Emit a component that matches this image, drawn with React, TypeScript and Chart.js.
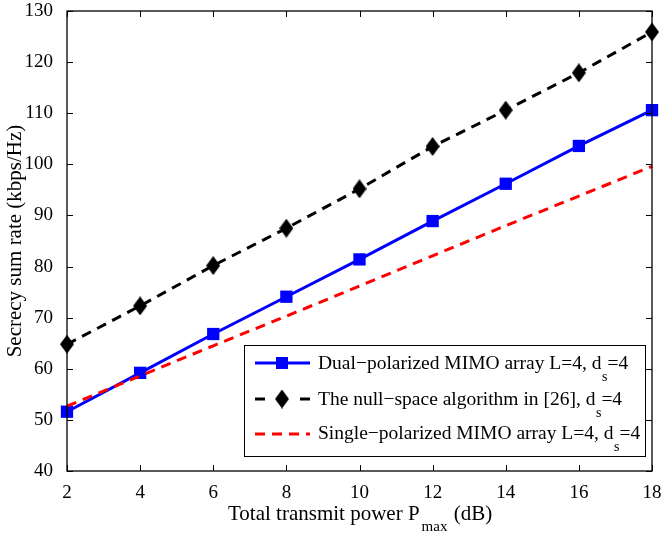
import { useEffect, useRef } from "react";
import { Chart, registerables } from "chart.js";
Chart.register(...registerables);

const power = [2, 4, 6, 8, 10, 12, 14, 16, 18];
const dualPolarized = [51.6, 59.2, 66.8, 74.1, 81.4, 88.9, 96.2, 103.6, 110.6];
const nullSpace = [64.8, 72.3, 80.2, 87.5, 95.2, 103.5, 110.6, 117.9, 125.9];
const singlePolarized = [52.7, 58.6, 64.5, 70.3, 76.2, 82.1, 88.0, 93.8, 99.6];
const legendMain = [
  "Dual\u2212polarized MIMO array L=4, d",
  "The null\u2212space algorithm in [26], d",
  "Single\u2212polarized MIMO array L=4, d",
];
const legendSub = "s";
const legendTail = "=4";
const xTitleMain = "Total transmit power P";
const xTitleSub = "max";
const xTitleTail = " (dB)";
const yTitle = "Secrecy sum rate (kbps/Hz)";

const FONT = "'Liberation Serif', 'Times New Roman', serif";
const BLUE = "#0000ff";
const BLACK = "#000000";
const RED = "#ff0000";
const DASH = [10, 7];

function makeDiamond(w: number, h: number) {
  const c = document.createElement("canvas");
  c.width = w;
  c.height = h;
  const g = c.getContext("2d")!;
  g.fillStyle = "#000";
  g.beginPath();
  g.moveTo(w / 2, 0);
  g.lineTo(w, h / 2);
  g.lineTo(w / 2, h);
  g.lineTo(0, h / 2);
  g.closePath();
  g.fill();
  return c;
}

export default function App() {
  const ref = useRef<HTMLCanvasElement | null>(null);
  useEffect(() => {
    const canvas = ref.current;
    if (!canvas) return;
    const diamond = makeDiamond(14, 19);

    const framePlugin = {
      id: "frame",
      afterDraw(chart: any) {
        const ctx = chart.ctx as CanvasRenderingContext2D;
        const { left, right, top, bottom } = chart.chartArea;
        const xs = chart.scales.x;
        const ys = chart.scales.y;
        ctx.save();
        ctx.strokeStyle = "#000";
        ctx.lineWidth = 1.3;
        ctx.strokeRect(left, top, right - left, bottom - top);
        const tl = 6;
        ctx.beginPath();
        xs.ticks.forEach((t: any) => {
          const px = Math.round(xs.getPixelForValue(t.value)) + 0.5;
          ctx.moveTo(px, bottom);
          ctx.lineTo(px, bottom - tl);
          ctx.moveTo(px, top);
          ctx.lineTo(px, top + tl);
        });
        ys.ticks.forEach((t: any) => {
          const py = Math.round(ys.getPixelForValue(t.value)) + 0.5;
          ctx.moveTo(left, py);
          ctx.lineTo(left + tl, py);
          ctx.moveTo(right, py);
          ctx.lineTo(right - tl, py);
        });
        ctx.lineWidth = 1;
        ctx.stroke();

        // x title with subscript
        ctx.fillStyle = "#000";
        ctx.textBaseline = "alphabetic";
        ctx.textAlign = "left";
        const tFont = `21px ${FONT}`;
        const tSub = `15px ${FONT}`;
        ctx.font = tFont;
        const w1 = ctx.measureText(xTitleMain).width;
        ctx.font = tSub;
        const w2 = ctx.measureText(xTitleSub).width;
        const x0 = 228;
        const by = 520;
        ctx.font = tFont;
        ctx.fillText(xTitleMain, x0, by);
        ctx.font = tSub;
        ctx.fillText(xTitleSub, x0 + w1 + 2, by + 11);
        ctx.font = tFont;
        ctx.fillText(xTitleTail, x0 + w1 + w2 + 3, by);

        // legend
        const lx = 244, ly = 345, lw = 401, lh = 111;
        ctx.fillStyle = "#fff";
        ctx.fillRect(lx, ly, lw, lh);
        ctx.strokeStyle = "#000";
        ctx.lineWidth = 1;
        ctx.strokeRect(lx + 0.5, ly + 0.5, lw, lh);
        const lines = [363, 399, 434];
        const bases = [369, 405, 439];
        const colors = [BLUE, BLACK, RED];
        const mFont = `19.5px ${FONT}`;
        const sFont = `14px ${FONT}`;
        lines.forEach((ry, i) => {
          ctx.strokeStyle = colors[i];
          ctx.lineWidth = 3;
          ctx.setLineDash(i === 0 ? [] : DASH);
          ctx.beginPath();
          if (i === 1) {
            ctx.moveTo(255, ry);
            ctx.lineTo(265, ry);
            ctx.moveTo(300, ry);
            ctx.lineTo(310, ry);
          } else {
            ctx.moveTo(255, ry);
            ctx.lineTo(310, ry);
          }
          ctx.stroke();
          ctx.setLineDash([]);
          if (i === 0) {
            ctx.fillStyle = BLUE;
            ctx.fillRect(282 - 6, ry - 6, 12, 12);
          } else if (i === 1) {
            ctx.drawImage(diamond, 282 - 7, ry - 9.5);
          }
          ctx.fillStyle = "#000";
          ctx.font = mFont;
          const tx = 318;
          const tb = bases[i];
          ctx.fillText(legendMain[i], tx, tb);
          const mw = ctx.measureText(legendMain[i]).width;
          ctx.font = sFont;
          ctx.fillText(legendSub, tx + mw + 0.5, tb + 12);
          const sw = ctx.measureText(legendSub).width;
          ctx.font = mFont;
          ctx.fillText(legendTail, tx + mw + sw + 0.5, tb);
        });
        ctx.restore();
      },
    };

    const chart = new Chart(canvas, {
      type: "line",
      data: {
        datasets: [
          {
            label: "Single",
            data: power.map((p, i) => ({ x: p, y: singlePolarized[i] })),
            borderColor: RED,
            borderWidth: 3,
            borderDash: DASH,
            pointRadius: 0,
            fill: false,
          },
          {
            label: "Null",
            data: power.map((p, i) => ({ x: p, y: nullSpace[i] })),
            borderColor: BLACK,
            backgroundColor: BLACK,
            borderWidth: 3,
            borderDash: DASH,
            pointStyle: diamond as any,
            pointRadius: 8,
            fill: false,
          },
          {
            label: "Dual",
            data: power.map((p, i) => ({ x: p, y: dualPolarized[i] })),
            borderColor: BLUE,
            backgroundColor: BLUE,
            borderWidth: 3,
            pointStyle: "rect",
            pointRadius: 8.7,
            pointBorderWidth: 0,
            fill: false,
          },
        ],
      },
      options: {
        responsive: false,
        animation: false,
        clip: false,
        layout: { padding: { left: 0, right: 8, top: 11, bottom: 0 } },
        plugins: { legend: { display: false }, tooltip: { enabled: false } },
        scales: {
          x: {
            type: "linear",
            min: 2,
            max: 18,
            grid: { display: false },
            border: { display: false },
            ticks: {
              stepSize: 2,
              color: "#000",
              font: { family: FONT, size: 19 },
              padding: 3,
              maxRotation: 0,
            },
            afterFit: (s: any) => {
              s.height = 65;
              s.paddingLeft = 0;
              s.paddingRight = 0;
            },
          },
          y: {
            min: 40,
            max: 130,
            grid: { display: false },
            border: { display: false },
            ticks: {
              stepSize: 10,
              color: "#000",
              font: { family: FONT, size: 19 },
              padding: 6,
            },
            title: {
              display: true,
              text: yTitle,
              color: "#000",
              font: { family: FONT, size: 21 },
              padding: { top: 3, bottom: 0 },
            },
            afterFit: (s: any) => {
              s.width = 67;
              s.paddingTop = 0;
              s.paddingBottom = 0;
            },
          },
        },
      },
      plugins: [framePlugin],
    });
    return () => chart.destroy();
  }, []);

  return (
    <div style={{ position: "fixed", left: 0, top: 0, width: 663, height: 536, background: "#fff" }}>
      <canvas ref={ref} width={663} height={536} style={{ display: "block" }} />
    </div>
  );
}
